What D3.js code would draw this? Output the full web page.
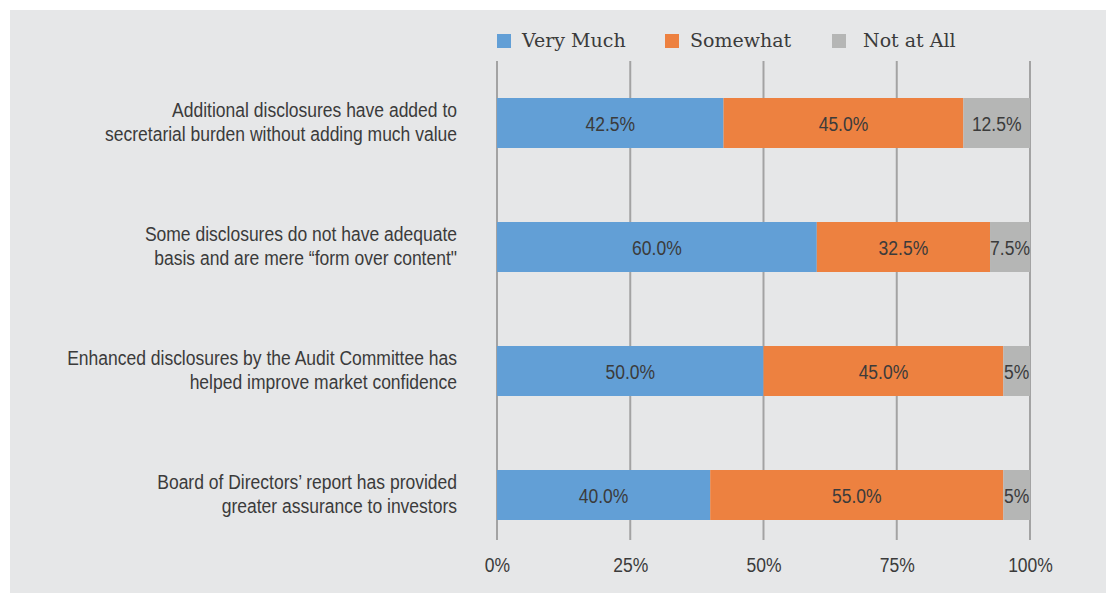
<!DOCTYPE html>
<html>
<head>
<meta charset="utf-8">
<script src="https://cdn.jsdelivr.net/npm/d3@7"></script>
<style>
  html, body { margin: 0; padding: 0; background: #ffffff; }
  svg { display: block; }
</style>
</head>
<body>
<svg id="chart" width="1106" height="593"></svg>
<script>
// Survey statements (top to bottom)
const categories = [
  ["Additional disclosures have added to", "secretarial burden without adding much value"],
  ["Some disclosures do not have adequate", "basis and are mere \u201cform over content\""],
  ["Enhanced disclosures by the Audit Committee has", "helped improve market confidence"],
  ["Board of Directors\u2019 report has provided", "greater assurance to investors"]
];
const seriesNames = ["Very Much", "Somewhat", "Not at All"];
const veryMuch = [42.5, 60.0, 50.0, 40.0];
const somewhat = [45.0, 32.5, 45.0, 55.0];
const notAtAll = [12.5, 7.5, 5.0, 5.0];
const valueLabels = [
  ["42.5%", "45.0%", "12.5%"],
  ["60.0%", "32.5%", "7.5%"],
  ["50.0%", "45.0%", "5%"],
  ["40.0%", "55.0%", "5%"]
];
const tickValues = [0, 25, 50, 75, 100];
const tickLabels = ["0%", "25%", "50%", "75%", "100%"];
const colors = ["#629fd6", "#ed8140", "#b5b6b5"];

const svg = d3.select("#chart");
const textColor = "#3b3b3b";
const sansFont = "'Liberation Sans', Arial, sans-serif";
const narrow = 0.875; // condensed sans text

// panel background
svg.append("rect").attr("x", 10).attr("y", 10).attr("width", 1096).attr("height", 583)
  .attr("fill", "#e6e7e8");

const x = d3.scaleLinear().domain([0, 100]).range([497, 1030]);
const y = d3.scaleBand().domain(d3.range(categories.length))
  .range([61, 557]).paddingInner(74 / 124).paddingOuter(37 / 124);

// gridlines
svg.append("g").selectAll("line").data(tickValues).join("line")
  .attr("x1", d => x(d)).attr("x2", d => x(d))
  .attr("y1", 61).attr("y2", 540)
  .attr("stroke", "#a3a3a3").attr("stroke-width", 2);

// x axis labels
const xAxis = d3.axisBottom(x).tickValues(tickValues)
  .tickFormat((d, i) => tickLabels[i]).tickSize(0).tickPadding(0);
const gx = svg.append("g").attr("transform", "translate(0,572)").call(xAxis);
gx.select(".domain").remove();
gx.selectAll("text").attr("y", 0).attr("dy", null)
  .attr("transform", `scale(${narrow},1)`)
  .attr("fill", textColor).style("font-family", sansFont).style("font-size", "20px");

// stacked bars
const rows = categories.map((c, i) => ({ i, vals: [veryMuch[i], somewhat[i], notAtAll[i]] }));
const segs = [];
rows.forEach(r => {
  let acc = 0;
  r.vals.forEach((v, k) => {
    segs.push({ row: r.i, k, x0: acc, x1: acc + v, label: valueLabels[r.i][k] });
    acc += v;
  });
});

svg.append("g").selectAll("rect").data(segs).join("rect")
  .attr("x", d => x(d.x0)).attr("width", d => x(d.x1) - x(d.x0))
  .attr("y", d => y(d.row)).attr("height", y.bandwidth())
  .attr("fill", d => colors[d.k]);

svg.append("g").selectAll("text").data(segs).join("text")
  .attr("transform", d =>
    `translate(${(x(d.x0) + x(d.x1)) / 2},${y(d.row) + y.bandwidth() / 2 + 8}) scale(${narrow},1)`)
  .attr("text-anchor", "middle")
  .attr("fill", textColor).style("font-family", sansFont).style("font-size", "20px")
  .text(d => d.label);

// category labels
const cat = svg.append("g").selectAll("text").data(categories).join("text")
  .attr("transform", (d, i) => `translate(457,${y(i) + y.bandwidth() / 2}) scale(${narrow},1)`)
  .attr("text-anchor", "end").attr("fill", textColor)
  .style("font-family", sansFont).style("font-size", "20px");
cat.each(function (lines) {
  d3.select(this).selectAll("tspan").data(lines).join("tspan")
    .attr("x", 0).attr("y", (d, j) => -6 + j * 24).text(d => d);
});

// legend
const legendX = [497, 665, 832];
const lg = svg.append("g").selectAll("g").data(seriesNames).join("g")
  .attr("transform", (d, i) => `translate(${legendX[i]},34)`);
lg.append("rect").attr("width", 14).attr("height", 14).attr("fill", (d, i) => colors[i]);
lg.append("text").attr("x", (d, i) => i === 2 ? 31 : 25).attr("y", 13)
  .attr("fill", textColor).style("font-family", "'DejaVu Serif', serif").style("font-size", "19px")
  .text(d => d);
</script>
</body>
</html>
